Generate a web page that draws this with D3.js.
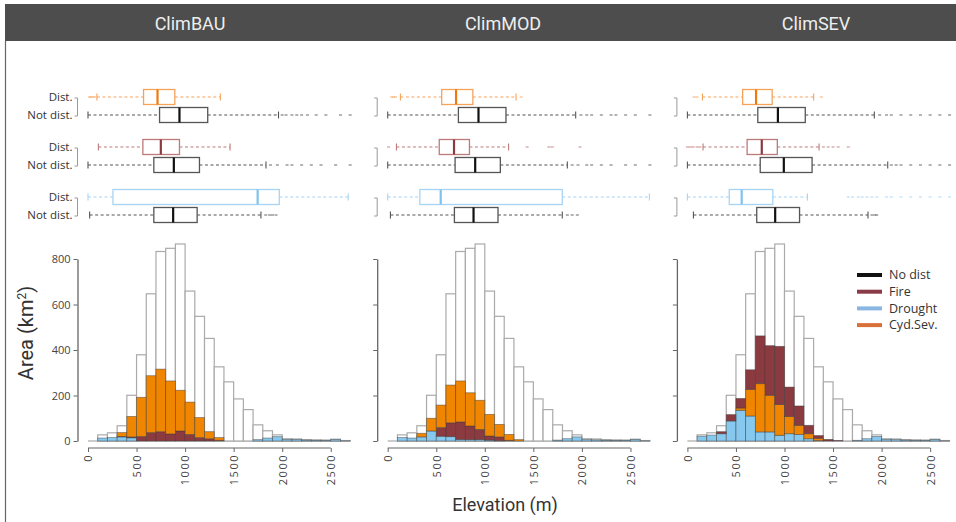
<!DOCTYPE html>
<html>
<head>
<meta charset="utf-8">
<script src="https://cdn.jsdelivr.net/npm/d3@7"></script>
<style>
  body { margin: 0; background: #fff; }
  svg { display: block; }
  text { font-family: "Open Sans", "DejaVu Sans", sans-serif; }
</style>
</head>
<body>
<svg id="chart" width="956" height="522"></svg>
<script>
// scenarios (facets)
const scenarios = ["ClimBAU", "ClimMOD", "ClimSEV"]

// elevation bins, lower edge (m), 100 m wide
const binStarts = [0, 100, 200, 300, 400, 500, 600, 700, 800, 900, 1000, 1100, 1200, 1300,
  1400, 1500, 1600, 1700, 1800, 1900, 2000, 2100, 2200, 2300, 2400, 2500, 2600]

// total forest area per bin (km2), same landscape for every scenario
const totalArea = [0, 27, 36, 67, 201, 379, 647, 833, 847, 866, 659, 548, 451, 326,
  260, 185, 138, 71, 45, 27, 10, 9, 6, 5, 4, 8, 2]

// disturbed area per bin (km2)
const droughtBAU = [0, 13, 15, 18, 14, 0, 0, 0, 0, 0, 0, 0, 0, 0, 0, 0, 0, 6, 13, 19, 7, 7, 4, 3, 3, 7, 1]
const fireBAU    = [0, 0, 0, 2, 4, 20, 37, 41, 31, 44, 29, 15, 10, 3, 0, 0, 0, 0, 0, 0, 0, 0, 0, 0, 0, 0, 0]
const cydBAU     = [0, 0, 0, 17, 90, 172, 250, 275, 233, 179, 142, 88, 31, 12, 0, 0, 0, 0, 0, 0, 0, 0, 0, 0, 0, 0, 0]

const droughtMOD = [0, 15, 13, 18, 44, 21, 19, 7, 6, 6, 4, 1, 0, 0, 0, 0, 0, 4, 10, 18, 6, 5, 3, 2, 3, 7, 1]
const fireMOD    = [0, 0, 0, 0, 0, 38, 61, 77, 60, 45, 18, 17, 3, 0, 0, 0, 0, 0, 0, 0, 0, 0, 0, 0, 0, 0, 0]
const cydMOD     = [0, 0, 0, 16, 56, 99, 166, 180, 146, 128, 95, 55, 26, 6, 0, 0, 0, 0, 0, 0, 0, 0, 0, 0, 0, 0, 0]

const droughtSEV = [0, 21, 26, 32, 88, 135, 110, 40, 40, 25, 32, 29, 10, 2, 0, 0, 0, 3, 10, 20, 7, 6, 4, 3, 3, 7, 1]
const fireSEV    = [0, 0, 0, 9, 28, 42, 86, 210, 218, 256, 129, 85, 37, 12, 7, 2, 0, 0, 0, 0, 0, 0, 0, 0, 0, 0, 0]
const cydSEV     = [0, 0, 0, 0, 0, 10, 117, 212, 161, 135, 76, 40, 22, 10, 0, 0, 0, 0, 0, 0, 0, 0, 0, 0, 0, 0, 0]

// stacking order, bottom first
const stackOrder = [["drought", "fire", "cyd"], ["drought", "fire", "cyd"], ["drought", "cyd", "fire"]]

// boxplot rows: [min whisker, q1, median, q3, max whisker] in m, plus outliers
const boxLabels = ["Dist.", "Not dist.", "Dist.", "Not dist.", "Dist.", "Not dist."]
const boxKinds  = ["cyd", "none", "fire", "none", "drought", "none"]

const boxBAU = [
  [92, 572, 716, 894, 1363], [0, 737, 942, 1233, 1962],
  [107, 565, 750, 942, 1463], [0, 678, 884, 1148, 1833],
  [0, 257, 1747, 1970, 2680], [17, 678, 877, 1124, 1781]]
const outBAU = [
  [15, 30, 50, 70], [2000, 2040, 2100, 2150, 2200, 2260, 2350, 2450, 2600, 2700],
  [], [1880, 1950, 2050, 2100, 2200, 2300, 2400, 2550, 2700],
  [], [1830, 1870, 1900, 1936]]

const boxMOD = [
  [131, 556, 704, 877, 1322], [0, 728, 935, 1218, 1936],
  [90, 531, 683, 842, 1245], [0, 694, 901, 1160, 1850],
  [0, 331, 546, 1798, 2695], [28, 687, 884, 1136, 1798]]
const outMOD = [
  [40, 60, 80, 1374], [1990, 2050, 2100, 2200, 2300, 2350, 2450, 2550, 2700],
  [10, 1436, 1660, 1694, 1981], [1900, 1960, 2050, 2100, 2200, 2300, 2450, 2550, 2700],
  [], [1850, 1900, 1953]]

const boxSEV = [
  [155, 569, 707, 873, 1300], [0, 725, 932, 1214, 1925],
  [161, 615, 766, 926, 1356], [0, 750, 993, 1284, 2063],
  [0, 431, 559, 880, 1236], [62, 714, 904, 1155, 1860]]
const outSEV = [
  [69, 100, 1380], [1980, 2050, 2100, 2200, 2300, 2400, 2500, 2600, 2700],
  [0, 30, 60, 100, 130, 1400, 1450, 1500, 1553, 1656], [2100, 2150, 2200, 2300, 2400, 2500, 2600, 2700],
  [1656, 1700, 1760, 1800, 1850, 1900, 1950, 2050, 2100, 2200, 2300, 2400, 2500, 2600, 2700], [1900, 1930, 1950]]

const xTicks = [0, 500, 1000, 1500, 2000, 2500]
const yTicks = [0, 200, 400, 600, 800]

const legendLabels = ["No dist", "Fire", "Drought", "Cyd.Sev."]

const layers = [
  { drought: droughtBAU, fire: fireBAU, cyd: cydBAU, box: boxBAU, out: outBAU },
  { drought: droughtMOD, fire: fireMOD, cyd: cydMOD, box: boxMOD, out: outMOD },
  { drought: droughtSEV, fire: fireSEV, cyd: cydSEV, box: boxSEV, out: outSEV }
]

const barFill = { drought: "#87c8ee", fire: "#8b3a40", cyd: "#f08500" }
const boxStroke = { cyd: "#f5a35a", fire: "#bd7a7a", drought: "#a8d4f4", none: "#555" }
const boxMedian = { cyd: "#ec7a10", fire: "#8b3a40", drought: "#80c2ee", none: "#111" }
const legendColor = ["#111", "#8b3a48", "#8ab6e4", "#d8703a"]

const svg = d3.select("#chart")

// frame + strip
svg.append("rect").attr("x", 5).attr("y", 4).attr("width", 951).attr("height", 37)
  .attr("fill", "#4d4d4d")
svg.append("line").attr("x1", 5.5).attr("x2", 5.5).attr("y1", 41).attr("y2", 522)
  .attr("stroke", "#666").attr("stroke-width", 1.2)

const titleX = [190, 503, 816]
scenarios.forEach((s, i) => {
  svg.append("text").attr("x", titleX[i]).attr("y", 30)
    .attr("text-anchor", "middle").attr("fill", "#eeeeee")
    .style("font-family", "Roboto, sans-serif").style("font-size", "18px")
    .text(s)
})

const rowY = [97, 115, 147, 165, 197, 215]

layers.forEach((L, i) => {
  const x0 = 88 + i * 299.7
  const x = d3.scaleLinear().domain([0, 2700]).range([x0, x0 + 2700 * 0.0971])
  const y = d3.scaleLinear().domain([0, 800]).range([441, 259])
  const g = svg.append("g")

  // ---- boxplots
  const bg = g.append("g")
  L.box.forEach((st, r) => {
    const kind = boxKinds[r]
    const cy = rowY[r]
    const col = boxStroke[kind]
    const h = 7.5
    // whiskers
    bg.append("line").attr("x1", x(st[0])).attr("x2", x(st[1])).attr("y1", cy).attr("y2", cy)
      .attr("stroke", col).attr("stroke-width", 1.1).attr("stroke-dasharray", "3,2.5")
    bg.append("line").attr("x1", x(st[3])).attr("x2", x(st[4])).attr("y1", cy).attr("y2", cy)
      .attr("stroke", col).attr("stroke-width", 1.1).attr("stroke-dasharray", "3,2.5")
    ;[st[0], st[4]].forEach(v => {
      bg.append("line").attr("x1", x(v)).attr("x2", x(v)).attr("y1", cy - 3.5).attr("y2", cy + 3.5)
        .attr("stroke", col).attr("stroke-width", 1.1)
    })
    // outliers
    L.out[r].forEach(v => {
      bg.append("line").attr("x1", x(v) - 1.5).attr("x2", x(v) + 1.5).attr("y1", cy).attr("y2", cy)
        .attr("stroke", col).attr("stroke-width", 1.1).attr("opacity", 0.8)
    })
    // box
    bg.append("rect").attr("x", x(st[1])).attr("y", cy - h).attr("width", x(st[3]) - x(st[1]))
      .attr("height", 2 * h).attr("fill", "#fff").attr("stroke", col).attr("stroke-width", 1.3)
    bg.append("line").attr("x1", x(st[2])).attr("x2", x(st[2])).attr("y1", cy - h).attr("y2", cy + h)
      .attr("stroke", boxMedian[kind]).attr("stroke-width", 2.2)
  })
  // brackets joining Dist./Not dist.
  const bx = x0 - 10.5
  for (let r = 0; r < 6; r += 2) {
    bg.append("path")
      .attr("d", `M${bx - 3},${rowY[r] + 1}H${bx}V${rowY[r + 1] + 1}H${bx - 3}`)
      .attr("fill", "none").attr("stroke", "#999").attr("stroke-width", 1)
  }
  if (i === 0) {
    boxLabels.forEach((lab, r) => {
      bg.append("text").attr("x", bx - 5).attr("y", rowY[r]).attr("dy", "0.35em")
        .attr("text-anchor", "end").attr("fill", "#333").style("font-size", "11.5px")
        .text(lab)
    })
  }

  // ---- histogram
  const rows = binStarts.map((b, k) => ({ bin: b, drought: L.drought[k], fire: L.fire[k], cyd: L.cyd[k] }))
  const bw = x(100) - x(0)

  g.append("line").attr("x1", x(0)).attr("x2", x(2700)).attr("y1", y(0)).attr("y2", y(0))
    .attr("stroke", "#999").attr("stroke-width", 1.2)

  g.append("g").selectAll("rect").data(binStarts.filter((b, k) => totalArea[k] > 0))
    .join("rect")
    .attr("x", d => x(d)).attr("width", bw)
    .attr("y", d => y(totalArea[binStarts.indexOf(d)]))
    .attr("height", d => y(0) - y(totalArea[binStarts.indexOf(d)]))
    .attr("fill", "#fff").attr("stroke", "#aaa").attr("stroke-width", 1.2)

  const series = d3.stack().keys(stackOrder[i])(rows)
  g.append("g").selectAll("g").data(series).join("g")
    .attr("fill", d => barFill[d.key])
    .selectAll("rect").data(d => d.filter(p => p[1] - p[0] > 0))
    .join("rect")
    .attr("x", p => x(p.data.bin)).attr("width", bw)
    .attr("y", p => y(p[1])).attr("height", p => y(p[0]) - y(p[1]))
    .attr("stroke", "rgba(60,60,60,0.55)").attr("stroke-width", 0.8)

  // y axis
  const ya = g.append("g").attr("transform", `translate(${x0 - 10.5},0)`)
    .call(d3.axisLeft(y).tickValues(yTicks).tickSize(4).tickSizeOuter(0)
      .tickFormat(i === 0 ? d3.format("d") : ""))
  ya.select(".domain").attr("stroke", "#666").attr("stroke-width", 1.3)
  ya.selectAll(".tick line").attr("stroke", "#666")
  ya.selectAll("text").attr("fill", "#444").style("font-size", "11px")
    .style("font-family", "'Open Sans', sans-serif")

  // x axis
  const xa = g.append("g").attr("transform", `translate(0,448)`)
    .call(d3.axisBottom(x).tickValues(xTicks).tickSize(4).tickFormat(d3.format("d")))
  xa.select(".domain").remove()
  xa.append("line").attr("x1", x(0)).attr("x2", x(2500)).attr("stroke", "#666").attr("stroke-width", 1.2)
  xa.selectAll(".tick line").attr("stroke", "#666")
  xa.selectAll("text")
    .attr("transform", "rotate(-90)")
    .attr("text-anchor", "end").attr("x", -6).attr("y", 0).attr("dy", "0.35em")
    .attr("fill", "#444").style("font-size", "11px").style("letter-spacing", "1.5px")
    .style("font-family", "'Open Sans', sans-serif")
})

// axis titles
svg.append("text").attr("transform", "translate(33,333) rotate(-90)")
  .attr("text-anchor", "middle").attr("fill", "#333")
  .style("font-family", "Roboto, sans-serif").style("font-size", "20px")
  .text("Area (km").append("tspan").text("2").attr("dy", -7).style("font-size", "12px")
  .select(function () { return this.parentNode })
  .append("tspan").text(")").attr("dy", 7)

svg.append("text").attr("x", 505).attr("y", 511).attr("text-anchor", "middle").attr("fill", "#333")
  .style("font-family", "Roboto, sans-serif").style("font-size", "18px")
  .text("Elevation (m)")

// legend
const lg = svg.append("g").attr("transform", "translate(857,275)")
legendLabels.forEach((lab, k) => {
  lg.append("line").attr("x1", 0).attr("x2", 25).attr("y1", k * 16.7).attr("y2", k * 16.7)
    .attr("stroke", legendColor[k]).attr("stroke-width", 4)
  lg.append("text").attr("x", 32).attr("y", k * 16.7).attr("dy", "0.35em")
    .attr("fill", "#333").style("font-size", "12.5px").text(lab)
})
</script>
</body>
</html>
